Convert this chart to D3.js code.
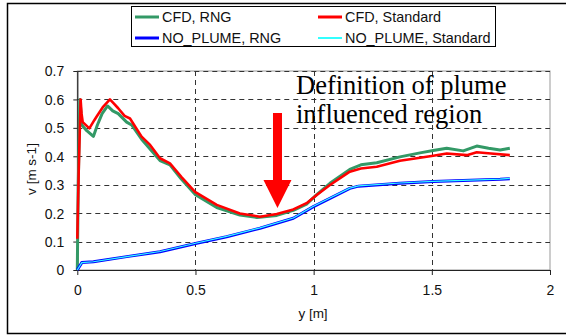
<!DOCTYPE html>
<html><head><meta charset="utf-8">
<script src="https://cdn.jsdelivr.net/npm/d3@7"></script>
<style>body{margin:0;background:#fff}svg{display:block}</style>
</head><body>
<svg id="c" width="566" height="335"></svg>
<script>
const seriesNames = ["CFD, RNG", "CFD, Standard", "NO_PLUME, RNG", "NO_PLUME, Standard"];
const seriesColors = ["#339966", "#FF0000", "#0000FF", "#33FFFF"];
const cfdRng = [[0,0],[0.004,0.3],[0.011,0.60],[0.016,0.55],[0.019,0.51],[0.04,0.49],[0.068,0.47],[0.085,0.51],[0.105,0.55],[0.128,0.577],[0.15,0.56],[0.173,0.55],[0.209,0.52],[0.23,0.51],[0.272,0.46],[0.35,0.385],[0.392,0.37],[0.44,0.32],[0.5,0.265],[0.59,0.22],[0.688,0.193],[0.76,0.185],[0.844,0.192],[0.914,0.21],[0.97,0.232],[1.013,0.265],[1.069,0.305],[1.153,0.354],[1.2,0.37],[1.267,0.377],[1.365,0.398],[1.45,0.412],[1.506,0.42],[1.563,0.428],[1.633,0.419],[1.69,0.436],[1.74,0.428],[1.789,0.422],[1.83,0.428]];
const cfdStd = [[0,0.11],[0.006,0.35],[0.014,0.60],[0.018,0.55],[0.023,0.52],[0.051,0.498],[0.072,0.527],[0.082,0.54],[0.11,0.575],[0.138,0.60],[0.155,0.585],[0.173,0.569],[0.2,0.542],[0.223,0.533],[0.272,0.469],[0.308,0.44],[0.35,0.393],[0.392,0.375],[0.44,0.328],[0.498,0.275],[0.59,0.229],[0.688,0.199],[0.773,0.1875],[0.844,0.197],[0.914,0.213],[0.97,0.235],[1.013,0.264],[1.069,0.299],[1.153,0.346],[1.2,0.357],[1.267,0.363],[1.365,0.384],[1.45,0.395],[1.506,0.402],[1.563,0.41],[1.648,0.404],[1.69,0.414],[1.75,0.41],[1.83,0.404]];
const noPlumeRng = [[0,0],[0.019,0.026],[0.068,0.029],[0.209,0.047],[0.35,0.064],[0.505,0.094],[0.632,0.117],[0.773,0.147],[0.914,0.182],[0.999,0.223],[1.069,0.252],[1.153,0.287],[1.19,0.295],[1.365,0.305],[1.506,0.311],[1.789,0.319],[1.83,0.321]];
const noPlumeStd = [[0,0],[0.019,0.026],[0.068,0.029],[0.209,0.047],[0.35,0.065],[0.505,0.095],[0.632,0.118],[0.773,0.148],[0.914,0.183],[0.999,0.224],[1.069,0.253],[1.153,0.288],[1.19,0.296],[1.365,0.306],[1.506,0.312],[1.789,0.32],[1.83,0.322]];
const xTicks = [0, 0.5, 1, 1.5, 2];
const yTicks = [0, 0.1, 0.2, 0.3, 0.4, 0.5, 0.6, 0.7];
const xTitle = "y [m]";
const yTitle = "v [m s-1]";
const noteLines = ["Definition of plume", "influenced region"];
const arrowPos = {x: 0.847, top: 0.552, headBase: 0.317, tip: 0.218};

const svg = d3.select("#c");
const x = d3.scaleLinear().domain([0, 2]).range([77.3, 550]);
const y = d3.scaleLinear().domain([0, 0.7]).range([270, 71]);
const font = "'Liberation Sans', Arial, sans-serif";

// outer frame
svg.append("rect").attr("x", 7.5).attr("y", 3.5).attr("width", 600).attr("height", 330)
  .attr("fill", "none").attr("stroke", "#000").attr("stroke-width", 1.5);

// plot border (top/right gray)
svg.append("rect").attr("x", x(0)).attr("y", y(0.7)).attr("width", x(2) - x(0)).attr("height", y(0) - y(0.7))
  .attr("fill", "none").attr("stroke", "#999").attr("stroke-width", 1);

// grid
const g = svg.append("g");
g.selectAll(".hg").data(yTicks.filter(d => d > 0)).join("line")
  .attr("x1", x(0)).attr("x2", x(2)).attr("y1", d => Math.round(y(d)) + 0.5).attr("y2", d => Math.round(y(d)) + 0.5)
  .attr("stroke", "#333").attr("stroke-dasharray", "5,4");
g.selectAll(".vg").data(xTicks.filter(d => d > 0 && d < 2)).join("line")
  .attr("y1", y(0.7)).attr("y2", y(0)).attr("x1", d => Math.round(x(d)) + 0.5).attr("x2", d => Math.round(x(d)) + 0.5)
  .attr("stroke", "#333").attr("stroke-dasharray", "5,4");

// axes
const xAxis = d3.axisBottom(x).tickValues(xTicks).tickFormat(d3.format("")).tickSize(5).tickSizeOuter(0);
const yAxis = d3.axisLeft(y).tickValues(yTicks).tickFormat(d3.format("")).tickSize(4).tickSizeOuter(0);
const gx = svg.append("g").attr("transform", `translate(0,${y(0)})`).call(xAxis);
const gy = svg.append("g").attr("transform", `translate(${x(0)},0)`).call(yAxis);
[gx, gy].forEach(a => {
  a.select(".domain").attr("stroke", "#222").attr("stroke-width", 1.2);
  a.selectAll(".tick line").attr("stroke", "#222");
  a.selectAll("text").attr("font-family", font).attr("font-size", 14).attr("fill", "#111");
});
gx.selectAll("text").attr("dy", null).attr("y", 25);
gy.selectAll("text").attr("x", -13).attr("dy", "0.35em");

svg.append("text").attr("x", 313).attr("y", 318).attr("text-anchor", "middle")
  .attr("font-family", font).attr("font-size", 13.5).attr("fill", "#111").text(xTitle);
svg.append("text").attr("transform", "translate(36,169) rotate(-90)").attr("text-anchor", "middle")
  .attr("font-family", font).attr("font-size", 13.5).attr("fill", "#111").text(yTitle);

// lines
const line = d3.line().x(d => x(d[0])).y(d => y(d[1]));
const data = [cfdRng, cfdStd, noPlumeRng, noPlumeStd];
const widths = [3, 2.6, 3, 1.2];
data.forEach((d, i) => {
  svg.append("path").datum(d).attr("d", line).attr("fill", "none")
    .attr("stroke", seriesColors[i]).attr("stroke-width", widths[i]).attr("stroke-linejoin", "round");
});

// arrow annotation
const ax = x(arrowPos.x);
const shaftHalf = 4.5, headHalf = 14;
svg.append("path").attr("fill", "#FF0000").attr("d",
  `M${ax - shaftHalf},${y(arrowPos.top)} L${ax + shaftHalf},${y(arrowPos.top)} L${ax + shaftHalf},${y(arrowPos.headBase)} L${ax + headHalf},${y(arrowPos.headBase)} L${ax},${y(arrowPos.tip)} L${ax - headHalf},${y(arrowPos.headBase)} L${ax - shaftHalf},${y(arrowPos.headBase)} Z`);

// note text
svg.selectAll(".note").data(noteLines).join("text")
  .attr("x", 296).attr("y", (d, i) => 94 + i * 29)
  .attr("font-family", "'Liberation Serif', 'Times New Roman', serif").attr("font-size", 26.5).attr("fill", "#000")
  .text(d => d);

// legend
const lg = svg.append("g");
lg.append("rect").attr("x", 131.5).attr("y", 6.5).attr("width", 364).attr("height", 40)
  .attr("fill", "#fff").attr("stroke", "#000").attr("stroke-width", 1);
const lpos = [[135, 17], [318, 17], [135, 38], [318, 38]];
seriesNames.forEach((n, i) => {
  const [lx, ly] = lpos[i];
  lg.append("line").attr("x1", lx).attr("x2", lx + 24).attr("y1", ly).attr("y2", ly)
    .attr("stroke", seriesColors[i]).attr("stroke-width", i === 3 ? 2 : 3);
  lg.append("text").attr("x", lx + 27).attr("y", ly).attr("dy", "0.35em")
    .attr("font-family", font).attr("font-size", 14.4).attr("fill", "#111").text(n);
});
</script>
</body></html>
